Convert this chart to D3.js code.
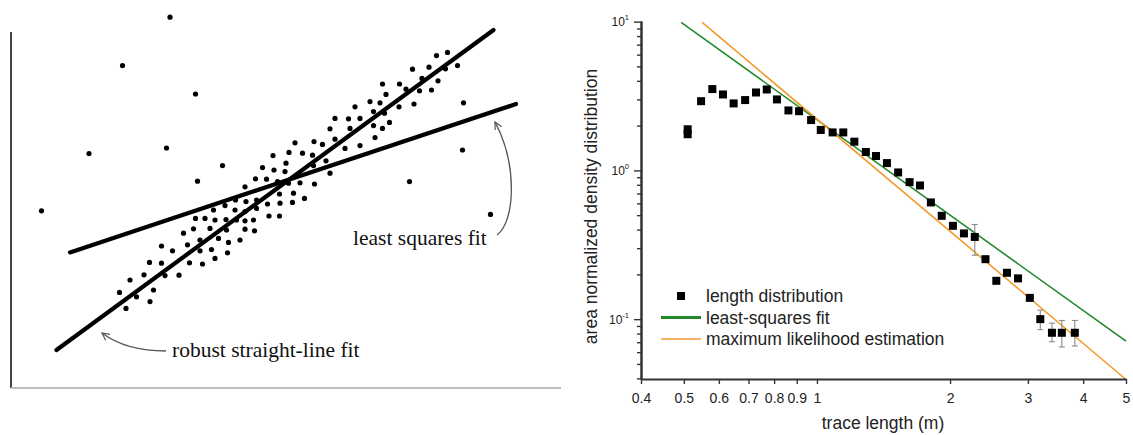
<!DOCTYPE html>
<html><head><meta charset="utf-8">
<script src="https://cdn.jsdelivr.net/npm/d3@7"></script>
<style>body{margin:0;background:#fff}svg{display:block}</style>
</head><body>
<svg id="c" width="1133" height="435"></svg>
<script>
// ---------- LEFT PANEL DATA (arbitrary units) ----------
const dotX = [
31.8,22.3,36.9,15.6,31.1,6.1,90.5,90.3,79.7,95.9,
37.3,42.3,52.4,50.3,52.6,48.9,46.8,85.1,87.3,89.3,
86.9,83.6,80.3,85.4,82.2,84.1,81.7,79.0,77.7,74.3,
75.0,73.8,71.8,68.8,77.6,80.6,72.5,74.7,69.8,67.5,
64.8,75.7,72.5,74.3,67.8,63.8,72.8,69.8,64.8,66.8,
62.3,60.6,56.8,58.3,55.6,60.3,63.0,55.0,63.8,60.5,
57.8,60.7,56.5,58.7,56.3,54.8,55.5,51.1,53.3,53.7,
53.8,51.3,49.1,47.0,48.5,51.6,53.7,46.8,44.9,42.8,
40.5,44.8,49.1,36.9,38.8,40.8,43.0,45.1,46.8,39.8,
43.1,36.5,34.5,46.8,48.7,41.5,43.5,45.8,37.8,40.1,
35.3,30.1,32.3,37.8,43.3,40.8,35.7,38.3,27.7,30.1,
26.6,30.8,33.6,23.8,21.7,28.5,25.1,27.8,23.0];
const dotY = [
92.7,80.6,73.5,58.6,60.0,44.3,71.3,59.5,51.6,43.4,
51.7,55.6,58.1,55.1,54.5,52.3,50.3,83.1,83.9,80.6,
79.8,80.2,79.7,76.8,77.4,74.5,74.3,74.7,76.0,76.0,
73.4,71.3,71.6,70.3,70.3,71.0,69.1,68.7,67.4,67.3,
67.4,66.4,65.6,64.9,64.9,64.8,62.6,60.6,62.2,59.9,
60.9,61.6,61.3,58.7,58.9,58.2,56.8,56.2,53.7,55.6,
51.3,51.0,48.7,47.4,46.4,54.1,51.2,52.2,51.6,48.5,
46.2,46.0,47.0,46.6,42.0,43.0,43.0,44.1,47.0,45.6,
44.5,44.5,44.9,42.4,42.4,42.0,42.1,42.0,41.8,39.9,
39.5,39.8,38.7,39.7,39.3,37.4,36.4,37.0,37.0,34.6,
35.8,35.5,34.3,34.3,33.8,32.4,31.3,31.0,31.4,31.2,
28.3,28.1,28.2,27.0,23.9,24.5,22.8,21.6,19.9];
const robustX = [9.1, 96.5], robustY = [9.5, 89.5];
const lsqLineX = [11.8, 101.0], lsqLineY = [33.9, 71.0];
const leftLabels = ["least squares fit", "robust straight-line fit"];

// ---------- RIGHT PANEL DATA ----------
const traceLen = [0.51,0.51,0.547,0.58,0.613,0.648,0.688,0.728,0.77,0.812,0.862,0.911,0.97,1.02,1.085,1.147,1.215,1.29,1.36,1.44,1.526,1.62,1.71,1.81,1.915,2.03,2.15,2.275,2.405,2.545,2.69,2.85,3.03,3.2,3.4,3.58,3.83];
const density  = [1.75,1.89,2.92,3.52,3.24,2.82,2.97,3.34,3.50,3.00,2.53,2.50,2.18,1.87,1.80,1.80,1.56,1.33,1.25,1.12,0.969,0.834,0.792,0.609,0.495,0.424,0.377,0.357,0.253,0.181,0.205,0.188,0.139,0.100,0.081,0.081,0.081];
const errLen  = [0.51, 2.275, 3.2, 3.4, 3.58, 3.83];
const errLow  = [1.67, 0.269, 0.085, 0.0705, 0.065, 0.066];
const errHigh = [1.96, 0.433, 0.115, 0.094, 0.098, 0.098];
const fitLsqX = [0.493, 5], fitLsqY = [9.88, 0.0711];
const fitMleX = [0.55, 5],  fitMleY = [9.88, 0.0393];
const xTicks = [0.4,0.5,0.6,0.7,0.8,0.9,1,2,3,4,5];
const yMajor = [0.1, 1, 10];
const yMajorExp = ["-1", "0", "1"];
const yMinor = [0.04,0.05,0.06,0.07,0.08,0.09,0.2,0.3,0.4,0.5,0.6,0.7,0.8,0.9,2,3,4,5,6,7,8,9];
const legendLabels = ["length distribution", "least-squares fit", "maximum likelihood estimation"];
const xTitle = "trace length (m)";
const yTitle = "area normalized density distribution";

const svg = d3.select("#c");

// ================= LEFT PANEL =================
const xL = d3.scaleLinear().domain([0,110]).range([11,561]);
const yL = d3.scaleLinear().domain([0,95]).range([388,8]);
const L = svg.append("g");

L.append("line").attr("x1", xL(0)).attr("x2", xL(0)).attr("y1", yL(0)).attr("y2", yL(94.5)-0+22)
  .attr("stroke","#444").attr("stroke-width",2);
L.append("line").attr("x1", xL(0)).attr("x2", xL(110)).attr("y1", yL(0)).attr("y2", yL(0))
  .attr("stroke","#bdbdbd").attr("stroke-width",2);

L.selectAll("circle.dot").data(d3.range(dotX.length)).join("circle")
  .attr("class","dot").attr("cx", i => xL(dotX[i])).attr("cy", i => yL(dotY[i]))
  .attr("r", 2.6).attr("fill","#000");

const lineL = d3.line().x(d => xL(d[0])).y(d => yL(d[1]));
L.append("path").attr("d", lineL(d3.zip(robustX, robustY)))
  .attr("stroke","#000").attr("stroke-width",4.2).attr("fill","none").attr("stroke-linecap","round");
L.append("path").attr("d", lineL(d3.zip(lsqLineX, lsqLineY)))
  .attr("stroke","#000").attr("stroke-width",4.2).attr("fill","none").attr("stroke-linecap","round");

const defs = svg.append("defs");
defs.append("marker").attr("id","ah").attr("viewBox","0 0 10 10").attr("refX",9).attr("refY",5)
  .attr("markerWidth",9).attr("markerHeight",9).attr("orient","auto").attr("markerUnits","userSpaceOnUse")
  .append("path").attr("d","M1,1 L9,5 L1,9").attr("fill","none").attr("stroke","#555").attr("stroke-width",1.3);

L.append("path").attr("d","M497,235 C515,222 518,165 495,122")
  .attr("fill","none").attr("stroke","#555").attr("stroke-width",1.3).attr("marker-end","url(#ah)");
L.append("path").attr("d","M166,351 Q126,351 102,333")
  .attr("fill","none").attr("stroke","#555").attr("stroke-width",1.3).attr("marker-end","url(#ah)");

L.append("text").attr("x",353).attr("y",245).text(leftLabels[0])
  .attr("font-family","'Liberation Serif', 'Times New Roman', serif").attr("font-size",21.5).attr("fill","#111");
L.append("text").attr("x",172).attr("y",357).text(leftLabels[1])
  .attr("font-family","'Liberation Serif', 'Times New Roman', serif").attr("font-size",21.5).attr("fill","#111");

// ================= RIGHT PANEL =================
const xR = d3.scaleLog().domain([0.4,5]).range([641,1126]);
const yR = d3.scaleLog().domain([0.0396,10.1]).range([379,21]);
const R = svg.append("g").attr("font-family","'Liberation Sans', Arial, sans-serif");

// fit lines
const lineR = d3.line().x(d => xR(d[0])).y(d => yR(d[1]));
R.append("path").attr("d", lineR(d3.zip(fitLsqX, fitLsqY))).attr("stroke","#21892a").attr("stroke-width",1.6).attr("fill","none");
R.append("path").attr("d", lineR(d3.zip(fitMleX, fitMleY))).attr("stroke","#f39a2c").attr("stroke-width",1.6).attr("fill","none");

// error bars
const eb = R.append("g").attr("stroke","#8a8a8a").attr("stroke-width",1.1);
errLen.forEach((x,i) => {
  const cx = xR(x);
  eb.append("line").attr("x1",cx).attr("x2",cx).attr("y1",yR(errLow[i])).attr("y2",yR(errHigh[i]));
  eb.append("line").attr("x1",cx-3).attr("x2",cx+3).attr("y1",yR(errLow[i])).attr("y2",yR(errLow[i]));
  eb.append("line").attr("x1",cx-3).attr("x2",cx+3).attr("y1",yR(errHigh[i])).attr("y2",yR(errHigh[i]));
});

// squares
R.selectAll("rect.pt").data(d3.range(traceLen.length)).join("rect").attr("class","pt")
  .attr("x", i => xR(traceLen[i]) - 4).attr("y", i => yR(density[i]) - 4)
  .attr("width",8).attr("height",8).attr("fill","#000");

// y axis
const yAxMinor = d3.axisLeft(yR).tickValues(yMinor).tickSize(4).tickFormat("").tickSizeOuter(0);
const yAxMajor = d3.axisLeft(yR).tickValues(yMajor).tickSize(7).tickFormat("").tickSizeOuter(0);
const gy1 = R.append("g").attr("transform","translate(641,0)").call(yAxMinor);
const gy2 = R.append("g").attr("transform","translate(641,0)").call(yAxMajor);
[gy1, gy2].forEach(g => { g.selectAll("line").attr("stroke","#333").attr("stroke-width",1.4); g.select(".domain").attr("stroke","#333").attr("stroke-width",2); });

yMajor.forEach((v,i) => {
  const t = R.append("text").attr("x",629).attr("y",yR(v)+4.5).attr("text-anchor","end")
    .attr("font-size",12).attr("fill","#222");
  t.append("tspan").text("10");
  t.append("tspan").text(yMajorExp[i]).attr("font-size",7.5).attr("dy",-6);
});

// x axis
const xAx = d3.axisBottom(xR).tickValues(xTicks).tickSize(5).tickPadding(9).tickSizeOuter(0)
  .tickFormat(d => d3.format("~g")(d));
const gx = R.append("g").attr("transform","translate(0,379)").call(xAx);
gx.select(".domain").attr("stroke","#333").attr("stroke-width",2);
gx.selectAll("line").attr("stroke","#333").attr("stroke-width",1.4);
gx.selectAll("text").attr("font-size",14).attr("fill","#222").attr("font-family","'Liberation Sans', Arial, sans-serif");

// titles
R.append("text").attr("x",883).attr("y",429).attr("text-anchor","middle").attr("font-size",17.5).attr("fill","#222").text(xTitle);
R.append("text").attr("transform","translate(597,206.5) rotate(-90)").attr("text-anchor","middle").attr("font-size",17.5).attr("fill","#222").text(yTitle);

// legend
const lg = R.append("g");
lg.append("rect").attr("x",677).attr("y",292).attr("width",8).attr("height",8).attr("fill","#000");
lg.append("line").attr("x1",661).attr("x2",701).attr("y1",317.5).attr("y2",317.5).attr("stroke","#21892a").attr("stroke-width",3);
lg.append("line").attr("x1",661).attr("x2",701).attr("y1",339).attr("y2",339).attr("stroke","#f39a2c").attr("stroke-width",1.6);
legendLabels.forEach((s,i) => {
  lg.append("text").attr("x",706).attr("y",302 + i*21.5).attr("font-size",17.5).attr("fill","#222").text(s);
});
</script>
</body></html>
